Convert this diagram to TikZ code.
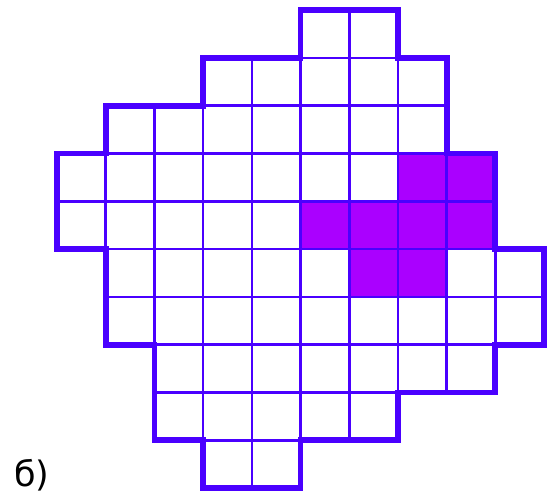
\documentclass[tikz,border=0pt]{standalone}
\usepackage{fontspec}
\setmainfont{DejaVu Sans}
\definecolor{gridline}{RGB}{74,0,255}
\definecolor{cellfill}{RGB}{170,0,255}
\begin{document}
\begin{tikzpicture}
\tikzset{
  thinline/.style={draw=gridline, line width=2.6pt},
  thickline/.style={draw=gridline, line width=5.8pt, line join=miter},
  marked/.style={fill=cellfill}
}
\path[use as bounding box] (0,0) rectangle (550pt,-499pt);
\begin{scope}[shift={(57pt,-10pt)}, x=48.7pt, y=-47.8pt]
  % marked cells
  \foreach \c/\r in {7/3,8/3,5/4,6/4,7/4,8/4,6/5,7/5}
    \path[marked] (\c,\r) rectangle ++(1,1);
  % grid cells
  \foreach \r/\a/\b in {0/5/6,1/3/7,2/1/7,3/0/8,4/0/8,5/1/9,6/1/9,7/2/8,8/2/6,9/3/4}
    \foreach \c in {\a,...,\b}
      \path[thinline] (\c,\r) rectangle ++(1,1);
  % outline
  \path[thickline] (5,0) -- (7,0) -- (7,1) -- (8,1) -- (8,3) -- (9,3) -- (9,5) -- (10,5) -- (10,7) -- (9,7) -- (9,8) -- (7,8) -- (7,9) -- (5,9) -- (5,10) -- (3,10) -- (3,9) -- (2,9) -- (2,7) -- (1,7) -- (1,5) -- (0,5) -- (0,3) -- (1,3) -- (1,2) -- (3,2) -- (3,1) -- (5,1) -- cycle;
\end{scope}
\node[font=\fontsize{35}{40}\selectfont, inner sep=0pt, anchor=base west] (label) at (14pt,-486pt) {б)};
\end{tikzpicture}
\end{document}
